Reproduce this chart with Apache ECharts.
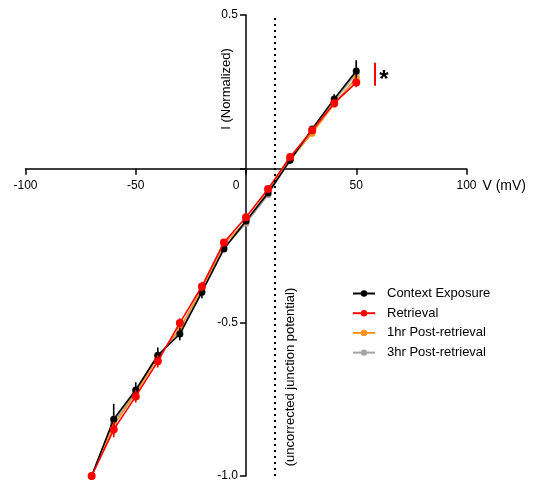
<!DOCTYPE html>
<html>
<head>
<meta charset="utf-8">
<script src="https://cdn.jsdelivr.net/npm/echarts@6/dist/echarts.min.js"></script>
<style>
  html, body { margin: 0; padding: 0; background: #fff; }
  #main { width: 535px; height: 483px; }
</style>
</head>
<body>
<div id="main"></div>
<script>
// holding potential steps (mV)
var volts = [-70, -60, -50, -40, -30, -20, -10, 0, 10, 20, 30, 40, 50];
// normalized current per group
var contextExposure = [-1.0, -0.815, -0.72, -0.607, -0.538, -0.402, -0.261, -0.17, -0.079, 0.027, 0.129, 0.227, 0.318];
var retrieval       = [-1.0, -0.849, -0.741, -0.627, -0.502, -0.383, -0.240, -0.158, -0.066, 0.038, 0.125, 0.213, 0.280];
var post1hr         = [-1.0, -0.835, -0.73, -0.615, -0.52, -0.39, -0.245, -0.172, -0.074, 0.03, 0.115, 0.21, 0.296];
var post3hr         = [-1.0, -0.825, -0.725, -0.61, -0.53, -0.398, -0.255, -0.178, -0.085, 0.028, 0.12, 0.22, 0.31];
// SEM
var contextErr   = [0, 0.05, 0.025, 0.025, 0.02, 0.02, 0.01, 0.01, 0.01, 0.01, 0.01, 0.015, 0.035];
var retrievalErr = [0, 0.025, 0.02, 0.02, 0.015, 0.015, 0.01, 0.01, 0.01, 0.01, 0.01, 0.01, 0.015];
var post1hrErr   = [0, 0.02, 0.015, 0.015, 0.015, 0.01, 0.01, 0.01, 0.01, 0.01, 0.01, 0.01, 0.02];
var post3hrErr   = [0, 0.02, 0.015, 0.015, 0.015, 0.01, 0.01, 0.01, 0.01, 0.01, 0.01, 0.015, 0.04];

var xTicks = { min: -100, max: 100, interval: 50 };
var yTicks = { min: -1.0, max: 0.5, interval: 0.5 };
var junctionPotential = 13;   // mV, dotted line
var sigBar = [[58.5, 0.27], [58.5, 0.345]];

var FONT = 'Liberation Sans, Arial, sans-serif';
var W = 535, H = 483;
var GRID = { left: 25.5, right: 68.5, top: 15, bottom: 7 };

// label axes are shifted in from the grid edges so labels sit at the origin
var gridW = W - GRID.left - GRID.right;
var gridH = H - GRID.top - GRID.bottom;
var xAxisOffset = -gridH * (0 - yTicks.min) / (yTicks.max - yTicks.min);
var yAxisOffset = -gridW * (0 - xTicks.min) / (xTicks.max - xTicks.min);

function pairs(ys) {
    return volts.map(function (v, i) { return [v, ys[i]]; });
}
function errPairs(ys, es) {
    return volts.map(function (v, i) { return [v, ys[i], es[i]]; });
}

function lineSeries(name, color, ys, z, size) {
    return {
        name: name,
        type: 'line',
        data: pairs(ys),
        z: z,
        symbol: 'circle',
        symbolSize: size,
        itemStyle: { color: color },
        lineStyle: { color: color, width: 1.6 },
        emphasis: { disabled: true }
    };
}

function errSeries(color, ys, es, z) {
    return {
        type: 'custom',
        data: errPairs(ys, es),
        z: z,
        silent: true,
        renderItem: function (params, api) {
            var x = api.value(0), y = api.value(1), e = api.value(2);
            var top = api.coord([x, y + e]);
            var bot = api.coord([x, y - e]);
            return {
                type: 'line',
                shape: { x1: top[0], y1: top[1], x2: bot[0], y2: bot[1] },
                style: { stroke: color, lineWidth: 1.6 }
            };
        }
    };
}

var chart = echarts.init(document.getElementById('main'));

var black = lineSeries('Context Exposure', '#000000', contextExposure, 3, 7);
var red = lineSeries('Retrieval', '#ff0000', retrieval, 4, 8);
var orange = lineSeries('1hr Post-retrieval', '#f7931e', post1hr, 2, 7);
var grey = lineSeries('3hr Post-retrieval', '#a6a6a6', post3hr, 1, 7);

grey.markLine = {
    silent: true,
    symbol: 'none',
    label: { show: false },
    lineStyle: { color: '#000', width: 2, type: [2, 4] },
    data: [{ xAxis: junctionPotential }]
};
red.markLine = {
    silent: true,
    symbol: 'none',
    label: { show: false },
    lineStyle: { color: '#ff0000', width: 2, type: 'solid' },
    data: [[{ coord: sigBar[0] }, { coord: sigBar[1] }]]
};

var lineAxisStyle = { lineStyle: { color: '#000', width: 1.5 } };

chart.setOption({
    animation: false,
    backgroundColor: '#fff',
    grid: { left: GRID.left, right: GRID.right, top: GRID.top, bottom: GRID.bottom, outerBoundsMode: 'none' },
    xAxis: [
        {
            // line + ticks crossing at the origin
            type: 'value',
            min: xTicks.min, max: xTicks.max, interval: xTicks.interval,
            axisLine: { onZero: true, lineStyle: lineAxisStyle.lineStyle },
            axisTick: { show: true, length: 6, lineStyle: lineAxisStyle.lineStyle },
            axisLabel: { show: false },
            splitLine: { show: false }
        },
        {
            // labels + name
            type: 'value',
            position: 'bottom',
            offset: xAxisOffset,
            min: xTicks.min, max: xTicks.max, interval: xTicks.interval,
            name: 'V (mV)',
            nameLocation: 'end',
            nameGap: 15,
            nameTextStyle: { color: '#000', fontFamily: FONT, fontSize: 14, verticalAlign: 'top', padding: [10, 0, 0, 0] },
            axisLine: { show: false, onZero: false },
            axisTick: { show: false },
            axisLabel: {
                color: '#000', fontFamily: FONT, fontSize: 12, margin: 11,
                formatter: function (v) { return v === 0 ? '{z|0}' : String(v); },
                rich: { z: { color: '#000', fontFamily: FONT, fontSize: 12, padding: [0, 20, 0, 0] } }
            },
            splitLine: { show: false }
        }
    ],
    yAxis: [
        {
            type: 'value',
            min: yTicks.min, max: yTicks.max, interval: yTicks.interval,
            axisLine: { onZero: true, lineStyle: lineAxisStyle.lineStyle },
            axisTick: { show: true, length: 6, lineStyle: lineAxisStyle.lineStyle },
            axisLabel: { show: false },
            splitLine: { show: false }
        },
        {
            type: 'value',
            position: 'left',
            offset: yAxisOffset,
            min: yTicks.min, max: yTicks.max, interval: yTicks.interval,
            axisLine: { show: false, onZero: false },
            axisTick: { show: false },
            axisLabel: {
                color: '#000', fontFamily: FONT, fontSize: 12, margin: 8,
                formatter: function (v) { return v === 0 ? '' : v.toFixed(1); }
            },
            splitLine: { show: false }
        }
    ],
    legend: {
        orient: 'vertical',
        left: 347,
        top: 282,
        itemWidth: 22,
        itemHeight: 8,
        itemGap: 6.7,
        data: ['Context Exposure', 'Retrieval', '1hr Post-retrieval', '3hr Post-retrieval'],
        textStyle: { color: '#000', fontFamily: FONT, fontSize: 13, padding: [0, 0, 0, 7] }
    },
    graphic: [
        {
            type: 'text', x: 226, y: 89, rotation: Math.PI / 2,
            style: { text: 'I (Normalized)', fill: '#000', font: '13px ' + FONT, align: 'center', verticalAlign: 'middle' }
        },
        {
            type: 'text', x: 290, y: 377, rotation: Math.PI / 2,
            style: { text: '(uncorrected junction potential)', fill: '#000', font: '13px ' + FONT, align: 'center', verticalAlign: 'middle' }
        },
        {
            type: 'text', x: 384, y: 80,
            style: { text: '*', fill: '#000', font: 'bold 24px ' + FONT, align: 'center', verticalAlign: 'middle' }
        }
    ],
    series: [
        errSeries('#a6a6a6', post3hr, post3hrErr, 1),
        errSeries('#f7931e', post1hr, post1hrErr, 2),
        errSeries('#000000', contextExposure, contextErr, 3),
        errSeries('#ff0000', retrieval, retrievalErr, 4),
        black, red, orange, grey
    ]
});
</script>
</body>
</html>
